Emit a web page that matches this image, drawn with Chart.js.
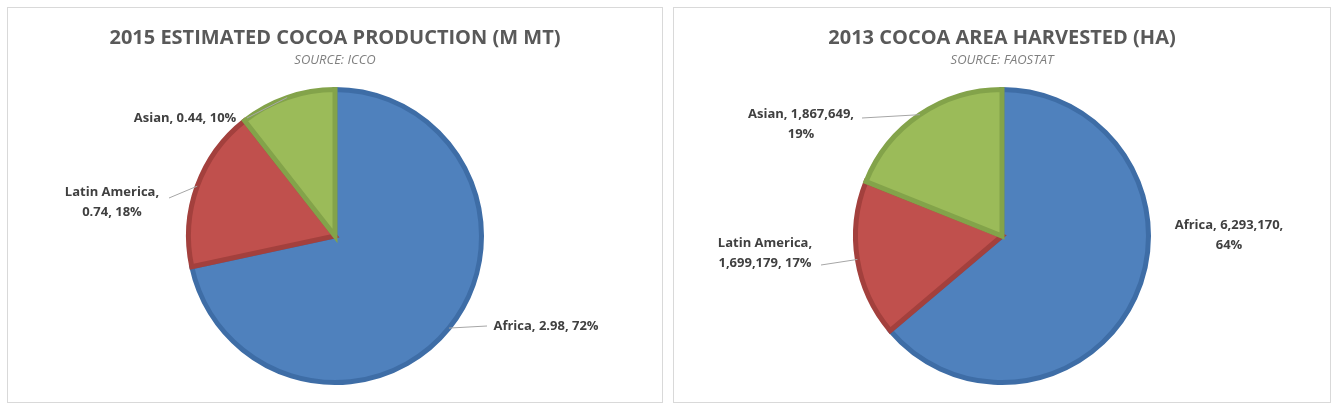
<!DOCTYPE html>
<html>
<head>
<meta charset="utf-8">
<script src="https://cdn.jsdelivr.net/npm/chart.js@4"></script>
<style>
  body { margin: 0; background: #fff; width: 1337px; height: 411px; position: relative; }
  .panel { position: absolute; top: 7px; width: 656px; height: 396px; border: 1px solid #d9d9d9; box-sizing: border-box; }
  #p1 { left: 7px; }
  #p2 { left: 673px; width: 658px; }
</style>
</head>
<body>
<div class="panel" id="p1"><canvas id="c1"></canvas></div>
<div class="panel" id="p2"><canvas id="c2"></canvas></div>
<script>
const categories = ['Africa', 'Latin America', 'Asian'];
const productionValues = [2.98, 0.74, 0.44];
const productionLabels = [['Africa, 2.98, 72%'], ['Latin America,', '0.74, 18%'], ['Asian, 0.44, 10%']];
const areaValues = [6293170, 1699179, 1867649];
const areaLabels = [['Africa, 6,293,170,', '64%'], ['Latin America,', '1,699,179, 17%'], ['Asian, 1,867,649,', '19%']];

const fills = ['#4F81BD', '#C0504D', '#9BBB59'];
const borders = ['#3E6DA6', '#A3403D', '#83A34A'];

// label placement relative to pie centre, text centre + leader line end
const layout1 = [
    { x: 211, y: 90, lx: 152, ly: 90 },
    { x: -223, y: -34, lx: -166, ly: -38 },
    { x: -150, y: -118, lx: -88, ly: -118 }
];
const layout2 = [
    { x: 227, y: -1, lx: null },
    { x: -237, y: 17, lx: -181, ly: 29 },
    { x: -201, y: -112, lx: -140, ly: -118 }
];

const pieLabels = {
    id: 'pieLabels',
    afterDraw(chart, args, opts) {
        const ctx = chart.ctx;
        const w = chart.width;
        ctx.save();
        ctx.textAlign = 'center';
        ctx.textBaseline = 'middle';
        ctx.fillStyle = '#595959';
        ctx.font = 'bold 20px "Open Sans"';
        ctx.fillText(opts.title, w / 2, 30);
        ctx.font = 'italic 13px "Open Sans"';
        ctx.fillStyle = '#7f7f7f';
        ctx.fillText(opts.subtitle, w / 2, 52);

        const arcs = chart.getDatasetMeta(0).data;
        arcs.forEach((arc, i) => {
            const p = arc.getProps(['x', 'y', 'startAngle', 'endAngle', 'outerRadius'], true);
            const mid = (p.startAngle + p.endAngle) / 2;
            const ax = p.x + Math.cos(mid) * p.outerRadius;
            const ay = p.y + Math.sin(mid) * p.outerRadius;
            const L = opts.layout[i];
            if (L.lx !== null) {
                ctx.strokeStyle = '#a6a6a6';
                ctx.lineWidth = 1;
                ctx.beginPath();
                ctx.moveTo(p.x + L.lx, p.y + L.ly);
                ctx.lineTo(ax, ay);
                ctx.stroke();
            }
            ctx.font = 'bold 13px "Open Sans"';
            ctx.fillStyle = '#404040';
            const lines = opts.labels[i];
            const h = 20;
            lines.forEach((t, k) => {
                ctx.fillText(t, p.x + L.x, p.y + L.y + (k - (lines.length - 1) / 2) * h);
            });
        });
        ctx.restore();
    }
};

function makePie(id, values, labels, layout, title, subtitle) {
    new Chart(document.getElementById(id), {
        type: 'pie',
        data: {
            labels: categories,
            datasets: [{
                data: values,
                backgroundColor: fills,
                borderColor: borders,
                borderWidth: 5,
                borderJoinStyle: 'miter'
            }]
        },
        options: {
            responsive: true,
            maintainAspectRatio: false,
            animation: false,
            layout: { padding: { top: 79, bottom: 17 } },
            plugins: {
                legend: { display: false },
                tooltip: { enabled: false },
                pieLabels: { labels, layout, title, subtitle }
            }
        },
        plugins: [pieLabels]
    });
}

makePie('c1', productionValues, productionLabels, layout1, '2015 ESTIMATED COCOA PRODUCTION (M MT)', 'SOURCE: ICCO');
makePie('c2', areaValues, areaLabels, layout2, '2013 COCOA AREA HARVESTED (HA)', 'SOURCE: FAOSTAT');
</script>
</body>
</html>
